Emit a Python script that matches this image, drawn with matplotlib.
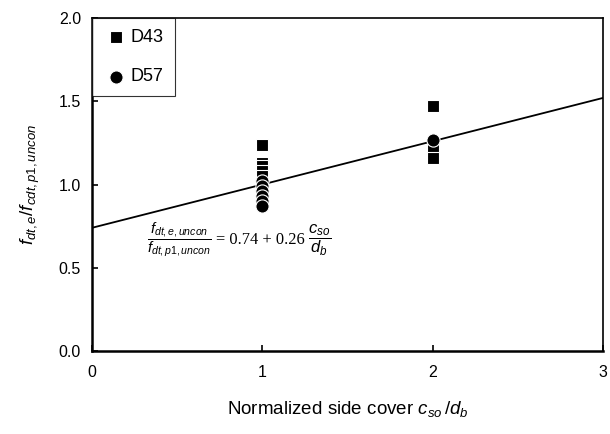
import matplotlib
matplotlib.use("Agg")
import matplotlib.pyplot as plt
import numpy as np

plt.rcParams['font.family'] = ['Liberation Sans', 'DejaVu Sans']
plt.rcParams['mathtext.fontset'] = 'custom'
plt.rcParams['mathtext.rm'] = 'Liberation Sans'
plt.rcParams['mathtext.it'] = 'Liberation Sans:italic'
plt.rcParams['mathtext.bf'] = 'Liberation Sans:bold'

# Data
d43_x = [1, 1, 1, 1, 1, 2, 2, 2]
d43_y = [1.24, 1.13, 1.11, 1.08, 1.05, 1.47, 1.21, 1.16]
d57_x = [1, 1, 1, 1, 1, 1, 2]
d57_y = [1.02, 0.99, 0.96, 0.93, 0.90, 0.87, 1.27]
fit_intercept = 0.74
fit_slope = 0.26
x_ticks = [0, 1, 2, 3]
y_ticks = [0.0, 0.5, 1.0, 1.5, 2.0]

fig = plt.figure(figsize=(6.1, 4.34), dpi=100)
ax = fig.add_axes([0.1508, 0.1912, 0.8377, 0.7673])

xl = np.array([0, 3])
ax.plot(xl, fit_intercept + fit_slope * xl, color='black', lw=1.3, zorder=2)

ax.scatter(d43_x, d43_y, marker='s', s=80, c='black', edgecolors='white', linewidths=0.8, zorder=3, label='D43')
ax.scatter(d57_x, d57_y, marker='o', s=90, c='black', edgecolors='white', linewidths=0.8, zorder=4, label='D57')

ax.set_xlim(0, 3)
ax.set_ylim(0, 2)
ax.set_xticks(x_ticks)
ax.set_yticks(y_ticks)
ax.set_yticklabels([f'{v:.1f}' for v in y_ticks])
ax.tick_params(direction='in', length=4, width=1.2, labelsize=11.5, pad=8)
ax.tick_params(axis='x', pad=10)
for s in ax.spines.values():
    s.set_linewidth(1.8)
ax.spines['top'].set_linewidth(1.2)
ax.spines['right'].set_linewidth(1.2)

ax.set_xlabel(r'Normalized side cover $c_{so}\,/d_b$', fontsize=13.5, labelpad=14)
ax.set_ylabel(r'$f_{dt,e}/f_{cdt,p1,uncon}$', fontsize=13.5, labelpad=12)

# Fit equation, in three pieces
eq_y = 0.667
ax.text(0.323, eq_y, r'$\dfrac{f_{dt,e,uncon}}{f_{dt,p1,uncon}}$', fontsize=10.8,
        ha='left', va='center')
ax.text(0.73, eq_y, f'= {fit_intercept:.2f} + {fit_slope:.2f}', fontsize=11.8,
        family='Liberation Serif', ha='left', va='center')
ax.text(1.27, eq_y, r'$\dfrac{c_{so}}{d_b}$', fontsize=12, ha='left', va='center')

leg = ax.legend(loc='upper left', bbox_to_anchor=(0, 1), borderaxespad=0, frameon=True,
                fancybox=False, edgecolor='black', fontsize=13, handletextpad=0.05,
                labelspacing=1.25, borderpad=0.6, handlelength=1.5, markerscale=1.0)
leg.get_frame().set_linewidth(0.8)

fig.savefig('out.png', dpi=100)
